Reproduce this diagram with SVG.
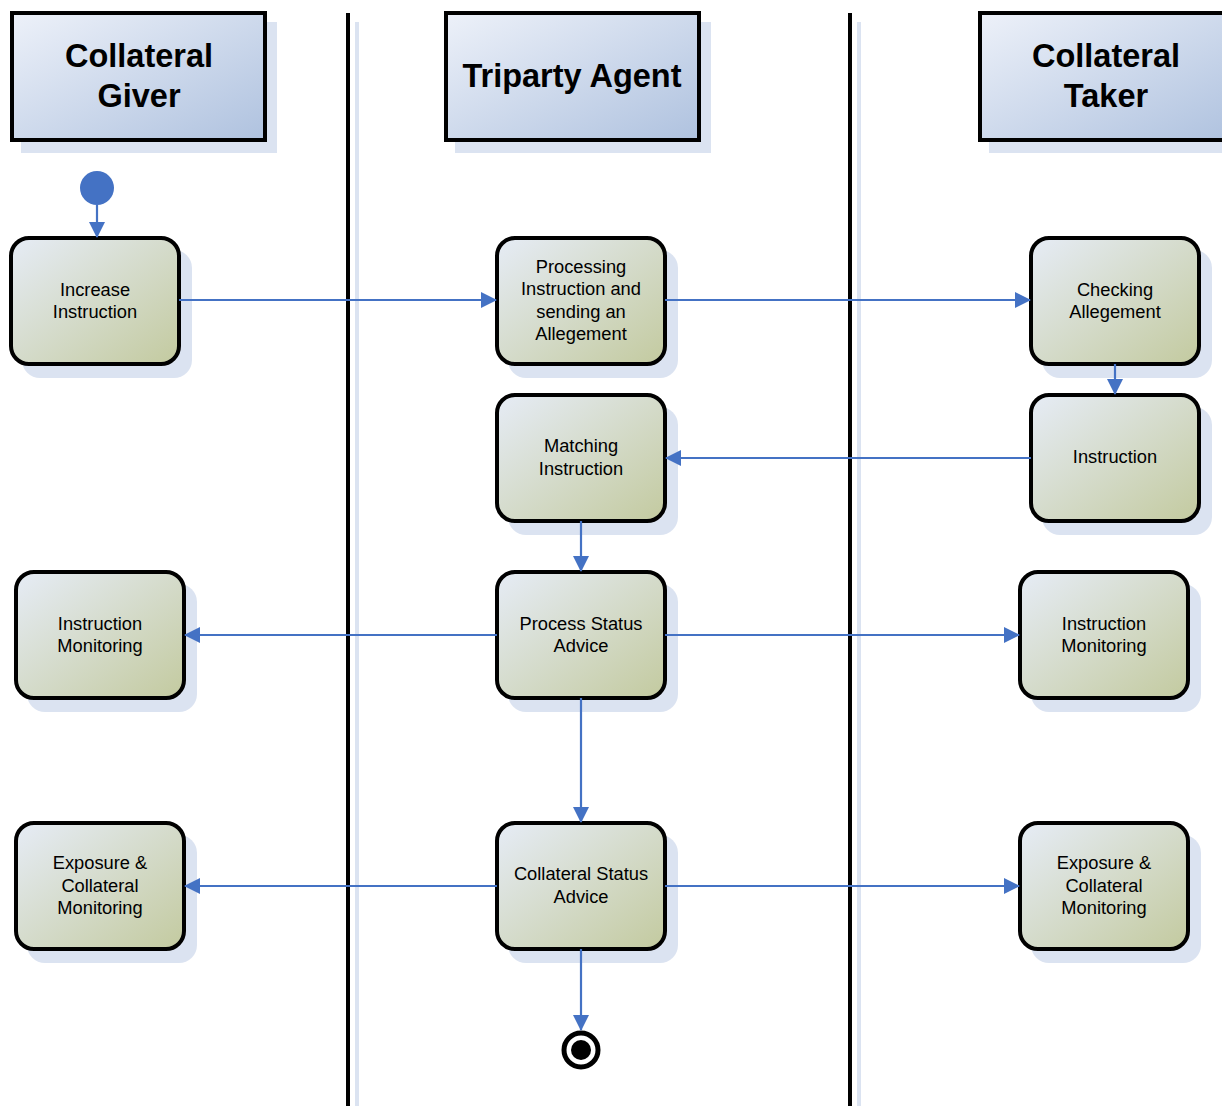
<svg xmlns="http://www.w3.org/2000/svg" width="1222" height="1106" viewBox="0 0 1222 1106">
<defs>
<linearGradient id="hdr" x1="0" y1="0" x2="1" y2="1">
<stop offset="0" stop-color="#edf1f9"/><stop offset="1" stop-color="#afc2df"/>
</linearGradient>
<linearGradient id="nd" x1="0" y1="0" x2="1" y2="1">
<stop offset="0" stop-color="#e6ecf6"/><stop offset="1" stop-color="#c3ca9f"/>
</linearGradient>
<marker id="ah" markerWidth="16" markerHeight="16" refX="15" refY="8" orient="auto" markerUnits="userSpaceOnUse">
<path d="M0,0 L16,8 L0,16 Z" fill="#4472c4"/>
</marker>
</defs>
<style>
.shadow{fill:#dbe3f1}
.hdr{fill:url(#hdr);stroke:#000;stroke-width:4}
.nd{fill:url(#nd);stroke:#000;stroke-width:4}
.ht{font-family:"Liberation Sans",Arial,sans-serif;font-weight:bold;font-size:32.5px;text-anchor:middle;fill:#000}
.nt{font-family:"Liberation Sans",Arial,sans-serif;font-size:18.3px;text-anchor:middle;fill:#000}
.cn{stroke:#4472c4;stroke-width:2.2;fill:none;marker-end:url(#ah)}
.lane{stroke:#000;stroke-width:4}
.laneS{stroke:#dbe3f1;stroke-width:4}
</style>
<rect width="1222" height="1106" fill="#fff"/>
<g id="lanes">
<line class="laneS" x1="357" y1="22" x2="357" y2="1106"/>
<line class="lane" x1="348" y1="13" x2="348" y2="1106"/>
<line class="laneS" x1="859" y1="22" x2="859" y2="1106"/>
<line class="lane" x1="850" y1="13" x2="850" y2="1106"/>
</g>
<g id="hdr-giver">
<rect class="shadow" x="21" y="22" width="256" height="131"/>
<rect class="hdr" x="12" y="13" width="253" height="127"/>
<text class="ht" x="139" y="67">Collateral</text>
<text class="ht" x="139" y="107">Giver</text>
</g>
<g id="hdr-agent">
<rect class="shadow" x="455" y="22" width="256" height="131"/>
<rect class="hdr" x="446" y="13" width="253" height="127"/>
<text class="ht" x="572" y="87">Triparty Agent</text>
</g>
<g id="hdr-taker">
<rect class="shadow" x="989" y="22" width="256" height="131"/>
<rect class="hdr" x="980" y="13" width="253" height="127"/>
<text class="ht" x="1106" y="67">Collateral</text>
<text class="ht" x="1106" y="107">Taker</text>
</g>
<g id="start"><circle cx="97" cy="188" r="17" fill="#4472c4"/></g>
<g id="n-increase">
<rect class="shadow" x="22" y="250" width="170" height="128" rx="18"/>
<rect class="nd" x="11" y="238" width="168" height="126" rx="18"/>
<text class="nt" x="95" y="296">Increase</text><text class="nt" x="95" y="318">Instruction</text>
</g>
<g id="n-processing">
<rect class="shadow" x="508" y="250" width="170" height="128" rx="18"/>
<rect class="nd" x="497" y="238" width="168" height="126" rx="18"/>
<text class="nt" x="581" y="273">Processing</text><text class="nt" x="581" y="295">Instruction and</text><text class="nt" x="581" y="318">sending an</text><text class="nt" x="581" y="340">Allegement</text>
</g>
<g id="n-checking">
<rect class="shadow" x="1042" y="250" width="170" height="128" rx="18"/>
<rect class="nd" x="1031" y="238" width="168" height="126" rx="18"/>
<text class="nt" x="1115" y="296">Checking</text><text class="nt" x="1115" y="318">Allegement</text>
</g>
<g id="n-matching">
<rect class="shadow" x="508" y="407" width="170" height="128" rx="18"/>
<rect class="nd" x="497" y="395" width="168" height="126" rx="18"/>
<text class="nt" x="581" y="452">Matching</text><text class="nt" x="581" y="475">Instruction</text>
</g>
<g id="n-instruction">
<rect class="shadow" x="1042" y="407" width="170" height="128" rx="18"/>
<rect class="nd" x="1031" y="395" width="168" height="126" rx="18"/>
<text class="nt" x="1115" y="463">Instruction</text>
</g>
<g id="n-mon-left">
<rect class="shadow" x="27" y="584" width="170" height="128" rx="18"/>
<rect class="nd" x="16" y="572" width="168" height="126" rx="18"/>
<text class="nt" x="100" y="630">Instruction</text><text class="nt" x="100" y="652">Monitoring</text>
</g>
<g id="n-psa">
<rect class="shadow" x="508" y="584" width="170" height="128" rx="18"/>
<rect class="nd" x="497" y="572" width="168" height="126" rx="18"/>
<text class="nt" x="581" y="630">Process Status</text><text class="nt" x="581" y="652">Advice</text>
</g>
<g id="n-mon-right">
<rect class="shadow" x="1031" y="584" width="170" height="128" rx="18"/>
<rect class="nd" x="1020" y="572" width="168" height="126" rx="18"/>
<text class="nt" x="1104" y="630">Instruction</text><text class="nt" x="1104" y="652">Monitoring</text>
</g>
<g id="n-exp-left">
<rect class="shadow" x="27" y="835" width="170" height="128" rx="18"/>
<rect class="nd" x="16" y="823" width="168" height="126" rx="18"/>
<text class="nt" x="100" y="869">Exposure &amp;</text><text class="nt" x="100" y="892">Collateral</text><text class="nt" x="100" y="914">Monitoring</text>
</g>
<g id="n-csa">
<rect class="shadow" x="508" y="835" width="170" height="128" rx="18"/>
<rect class="nd" x="497" y="823" width="168" height="126" rx="18"/>
<text class="nt" x="581" y="880">Collateral Status</text><text class="nt" x="581" y="903">Advice</text>
</g>
<g id="n-exp-right">
<rect class="shadow" x="1031" y="835" width="170" height="128" rx="18"/>
<rect class="nd" x="1020" y="823" width="168" height="126" rx="18"/>
<text class="nt" x="1104" y="869">Exposure &amp;</text><text class="nt" x="1104" y="892">Collateral</text><text class="nt" x="1104" y="914">Monitoring</text>
</g>
<g id="end">
<circle cx="581" cy="1050" r="17" fill="#fff" stroke="#000" stroke-width="5"/>
<circle cx="581" cy="1050" r="10" fill="#000"/>
</g>
<g id="connectors">
<line class="cn" x1="97" y1="205" x2="97" y2="237"/>
<line class="cn" x1="179" y1="300" x2="496" y2="300"/>
<line class="cn" x1="665" y1="300" x2="1030" y2="300"/>
<line class="cn" x1="1115" y1="364" x2="1115" y2="394"/>
<line class="cn" x1="1031" y1="458" x2="666" y2="458"/>
<line class="cn" x1="581" y1="521" x2="581" y2="571"/>
<line class="cn" x1="497" y1="635" x2="185" y2="635"/>
<line class="cn" x1="665" y1="635" x2="1019" y2="635"/>
<line class="cn" x1="581" y1="698" x2="581" y2="822"/>
<line class="cn" x1="497" y1="886" x2="185" y2="886"/>
<line class="cn" x1="665" y1="886" x2="1019" y2="886"/>
<line class="cn" x1="581" y1="949" x2="581" y2="1030"/>
</g>
</svg>
